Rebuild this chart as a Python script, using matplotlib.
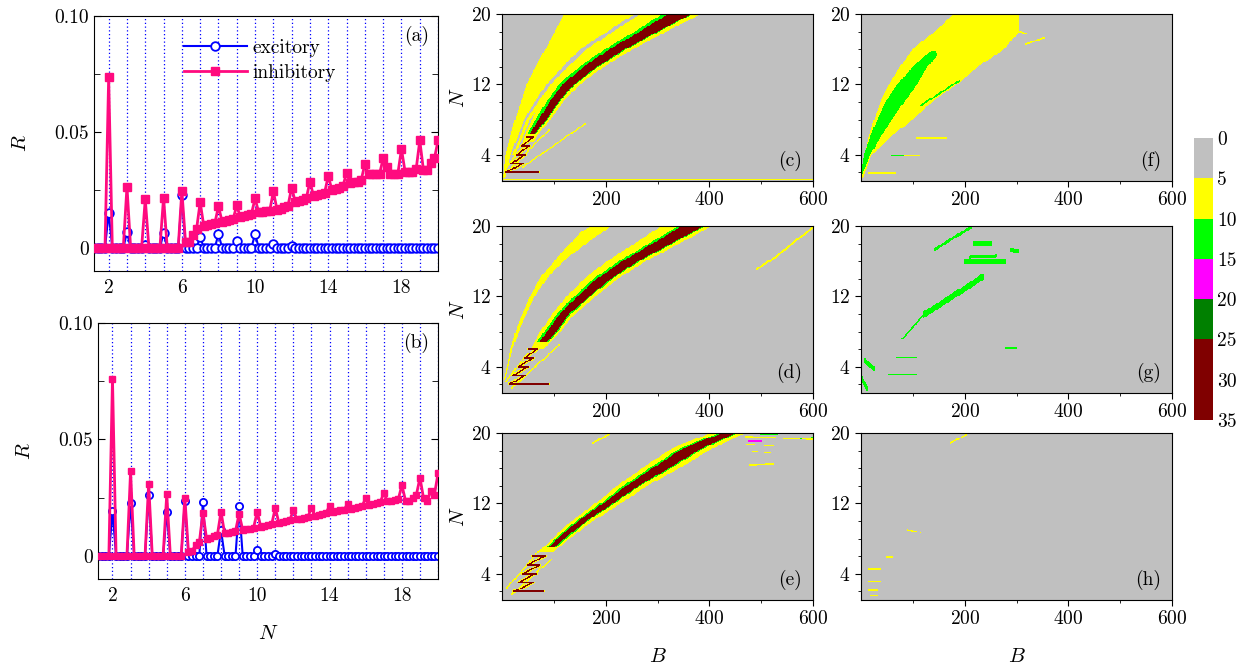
import numpy as np
import matplotlib
matplotlib.use('Agg')
import matplotlib.pyplot as plt
from matplotlib.colors import ListedColormap, BoundaryNorm
from matplotlib.cm import ScalarMappable

plt.rcParams['font.family'] = 'cmr10'
plt.rcParams['mathtext.fontset'] = 'cm'
plt.rcParams['axes.unicode_minus'] = False
plt.rcParams['axes.formatter.use_mathtext'] = True

# ---------------- line panels (a), (b) ----------------
N_line = np.round(np.arange(1.2, 20.001, 0.2), 1)   # N = 1.2, 1.4, ..., 20

inhib_a = [
    0, 0, 0, 0, 0.0736,
    0, 0, 0, 0, 0.0264,
    0, 0, 0, 0, 0.0210,
    0, 0, 0, 0, 0.0217,
    0, 0, 0, 0, 0.0247,
    0.0024, 0.0026, 0.0057, 0.0079, 0.0197,
    0.0093, 0.0097, 0.0101, 0.0106, 0.0179,
    0.0113, 0.0117, 0.0120, 0.0124, 0.0183,
    0.0132, 0.0136, 0.0141, 0.0146, 0.0213,
    0.0153, 0.0155, 0.0157, 0.0160, 0.0243,
    0.0165, 0.0169, 0.0175, 0.0182, 0.0260,
    0.0198, 0.0203, 0.0208, 0.0214, 0.0286,
    0.0222, 0.0226, 0.0230, 0.0238, 0.0310,
    0.0249, 0.0255, 0.0260, 0.0268, 0.0321,
    0.0281, 0.0283, 0.0286, 0.0293, 0.0361,
    0.0318, 0.0317, 0.0317, 0.0318, 0.0386,
    0.0350, 0.0320, 0.0319, 0.0319, 0.0426,
    0.0327, 0.0325, 0.0328, 0.0338, 0.0463,
    0.0336, 0.0336, 0.0367, 0.0386, 0.0463,
]
excit_a = [
    0, 0, 0, 0, 0.0150,
    0, 0, 0, 0, 0.0067,
    0, 0, 0, 0, 0.0014,
    0, 0, 0, 0, 0.0064,
    0, 0, 0, 0, 0.0229,
    0, 0, 0, 0, 0.0047,
    0, 0, 0, 0, 0.0060,
    0, 0, 0, 0, 0.0029,
    0, 0, 0, 0, 0.0060,
    0, 0, 0, 0, 0.0017,
    0, 0, 0, 0, 0.0007,
    0, 0, 0, 0, 0,
    0, 0, 0, 0, 0,
    0, 0, 0, 0, 0,
    0, 0, 0, 0, 0,
    0, 0, 0, 0, 0,
    0, 0, 0, 0, 0,
    0, 0, 0, 0, 0,
    0, 0, 0, 0, 0,
]
inhib_b = [
    0, 0, 0, 0, 0.0760,
    0, 0, 0, 0, 0.0364,
    0, 0, 0, 0, 0.0310,
    0, 0, 0, 0, 0.0264,
    0, 0, 0, 0, 0.0250,
    0.0017, 0.0022, 0.0045, 0.0057, 0.0185,
    0.0074, 0.0078, 0.0085, 0.0090, 0.0189,
    0.0096, 0.0099, 0.0102, 0.0106, 0.0180,
    0.0111, 0.0114, 0.0117, 0.0120, 0.0189,
    0.0125, 0.0128, 0.0131, 0.0135, 0.0205,
    0.0142, 0.0145, 0.0148, 0.0152, 0.0197,
    0.0156, 0.0159, 0.0162, 0.0166, 0.0207,
    0.0170, 0.0174, 0.0178, 0.0184, 0.0213,
    0.0189, 0.0192, 0.0195, 0.0198, 0.0223,
    0.0203, 0.0207, 0.0211, 0.0215, 0.0246,
    0.0220, 0.0223, 0.0226, 0.0230, 0.0270,
    0.0234, 0.0237, 0.0240, 0.0243, 0.0303,
    0.0237, 0.0237, 0.0248, 0.0262, 0.0335,
    0.0246, 0.0234, 0.0280, 0.0263, 0.0355,
]
excit_b = [
    0, 0, 0, 0, 0.0192,
    0, 0, 0, 0, 0.0227,
    0, 0, 0, 0, 0.0260,
    0, 0, 0, 0, 0.0190,
    0, 0, 0, 0, 0.0236,
    0, 0, 0, 0, 0.0232,
    0, 0, 0, 0, 0.0110,
    0, 0, 0, 0, 0.0213,
    0, 0, 0, 0, 0.0026,
    0, 0, 0, 0, 0.0007,
    0, 0, 0, 0, 0,
    0, 0, 0, 0, 0,
    0, 0, 0, 0, 0,
    0, 0, 0, 0, 0,
    0, 0, 0, 0, 0,
    0, 0, 0, 0, 0,
    0, 0, 0, 0, 0,
    0, 0, 0, 0, 0,
    0, 0, 0, 0, 0,
]
grid_N = list(range(2, 21))
line_xticks = [2, 6, 10, 14, 18]

# ---------------- heat-map panels (c)-(h) ----------------
level_bounds = [0, 5, 10, 15, 20, 25, 35]
level_colors = ['#c0c0c0', '#ffff00', '#00ff00', '#ff00ff', '#008000', '#800000']
cbar_ticks = [0, 5, 10, 15, 20, 25, 30, 35]
YEL, LIME, MAG, DKG, MAR = 7.5, 12.5, 17.5, 22.5, 30.0

# panel (c)
c_fan_N = [1.3, 4, 8, 12, 16, 20]
c_fan_L = [2, 7, 25, 47, 83, 120]
c_fan_R = [6, 17, 42, 85, 150, 255]
c_mid_N = [4, 8, 12, 16, 20]
c_mid_L = [20, 47, 93, 162, 266]
c_mid_R = [25, 54, 106, 185, 302]
c_halo_N = [5.5, 6.3, 8, 10, 12, 14, 16, 18, 20.2]
c_halo_L = [40, 44, 58, 75, 97, 133, 180, 237, 296]
c_halo_R = [62, 70, 93, 118, 150, 196, 252, 316, 390]
c_core_N = [6.3, 8, 10, 12, 14, 16, 18, 20.2]
c_frin_L = [48, 65, 85, 110, 149, 198, 255, 314]
c_frin_R = [65, 87, 111, 141, 186, 240, 302, 374]
c_core_L = [53, 71, 91, 117, 157, 207, 265, 325]
c_core_R = [63, 85, 109, 139, 183, 237, 299, 371]
c_zz_B = [48, 60, 38, 52, 28, 45, 18, 40, 8, 70]
c_zz_N = [6, 6, 5, 5, 4, 4, 3, 3, 2, 2]
c_ray_segs = [(5, 2.2, 60, 6.5), (10, 2.0, 90, 6.8), (40, 2.6, 160, 7.5)]
c_base_B = [0, 600]
c_base_N = [1.1, 1.1]

# panel (d)
d_arc_N = [2.5, 4.3, 6.1, 8.8, 11.8, 14.4, 16.6, 18.1, 19.25, 20.2]
d_arc_L = [4, 11, 17, 30, 52, 77, 109, 133, 150, 177]
d_arc_R = [6, 14, 21, 37, 61, 91, 130, 165, 192, 215]
d_halo_N = [6.0, 6.8, 8, 10, 12, 14, 16, 18, 20.2]
d_halo_L = [56, 63, 74, 96, 125, 158, 202, 255, 312]
d_halo_R = [80, 93, 113, 140, 180, 223, 277, 342, 410]
d_core_N = [6.8, 8, 10, 12, 14, 16, 18, 20.2]
d_frin_L = [68, 81, 106, 139, 176, 225, 283, 345]
d_frin_R = [89, 108, 133, 171, 213, 265, 329, 398]
d_core_L = [73, 86, 112, 145, 183, 232, 290, 352]
d_core_R = [86, 105, 130, 168, 210, 262, 326, 395]
d_zz_B = [52, 68, 44, 60, 31, 50, 21, 44, 15, 89]
d_zz_N = [6, 6, 5, 5, 4, 4, 3, 3, 2, 2]
d_ray_segs = [(8, 2.3, 45, 5.2), (20, 1.6, 110, 6.5)]
d_tail_B = [492, 530, 560, 600]
d_tail_N = [15.1, 16.6, 18.0, 19.9]

# panel (e)
e_halo_N = [6.5, 7, 8.5, 10, 12, 14, 16, 18, 19, 20, 20.3]
e_halo_L = [70, 80, 106, 134, 180, 222, 270, 320, 356, 404, 420]
e_halo_R = [98, 110, 141, 176, 229, 280, 342, 398, 432, 470, 486]
e_core_N = [7, 8.5, 10, 12, 14, 16, 18, 19, 20, 20.3]
e_frin_L = [85, 113, 143, 190, 234, 284, 336, 372, 420, 434]
e_frin_R = [105, 134, 166, 217, 266, 326, 381, 416, 455, 470]
e_core_L = [89, 117, 147, 195, 240, 290, 342, 378, 426, 440]
e_core_R = [102, 131, 163, 214, 263, 322, 377, 412, 452, 466]
e_zz_B = [60, 82, 50, 73, 40, 66, 31, 60, 24, 79]
e_zz_N = [6, 6, 5, 5, 4, 4, 3, 3, 2, 2]
e_ray_segs = [(10, 2.4, 70, 6.5), (20, 1.7, 95, 5.6)]
e_yel_segs = [(176, 18.9, 207, 19.9), (470, 19.6, 600, 19.3), (471, 18.7, 523, 18.6),
              (484, 17.9, 516, 17.8), (478, 16.4, 523, 16.5)]
e_lime_segs = [(500, 19.9, 530, 19.9), (575, 19.4, 600, 19.5)]
e_mag_segs = [(475, 19.1, 500, 19.1)]

# panel (f)
f_yel_N = [1.3, 4, 6, 8, 10.5, 12, 14, 16, 18, 20.2]
f_yel_L = [1, 8, 15, 25, 40, 54, 75, 99, 141, 183]
f_yel_R = [4, 21, 57, 99, 147, 186, 225, 276, 305, 303]
f_grn_N = [1.8, 2.5, 4, 6, 8, 10, 12, 14, 15.3, 15.8]
f_grn_L = [2, 2, 6, 18, 31, 47, 70, 99, 124, 135]
f_grn_R = [3, 8, 18, 37, 60, 83, 108, 128, 147, 143]
f_lime_segs = [(115, 9.6, 189, 12.4), (60, 3.9, 80, 3.9)]
f_yel_segs = [(295, 18.2, 318, 17.8), (318, 16.6, 353, 17.3), (108, 5.9, 165, 5.9),
              (60, 3.9, 112, 3.9), (15, 1.93, 67, 1.93)]

# panel (g)
g_lime_segs = [(141, 17.3, 212, 19.9), (218, 18.0, 250, 18.0), (199, 16.0, 279, 16.0),
               (210, 16.5, 260, 16.6), (289, 17.3, 302, 17.2), (121, 9.9, 237, 14.3),
               (80, 7.2, 121, 9.9), (70, 5.05, 107, 5.05), (54, 3.1, 107, 3.1),
               (279, 6.1, 299, 6.1), (8, 4.7, 25, 3.8), (2, 2.6, 12, 1.5)]
g_lime_half = [0.15, 0.25, 0.3, 0.15, 0.2, 0.35, 0.08, 0.06, 0.06, 0.06, 0.25, 0.25]

# panel (h)
h_yel_segs = [(173, 18.9, 202, 19.8), (89, 9.0, 115, 8.7), (15, 4.5, 37, 4.5),
              (15, 3.1, 37, 3.1), (15, 2.1, 31, 2.1), (20, 1.5, 31, 1.5), (50, 5.9, 60, 5.9)]

B_edges = np.linspace(0, 600, 301)
N_edges = np.linspace(1.0, 20.0, 191)
Bc = 0.5 * (B_edges[:-1] + B_edges[1:])
Nc = 0.5 * (N_edges[:-1] + N_edges[1:])


def new_grid():
    return np.full((len(Nc), len(Bc)), 2.5)


def paint_band(Z, Ns, Ls, Rs, val):
    Ns = np.asarray(Ns, float)
    L = np.interp(Nc, Ns, Ls)
    R = np.interp(Nc, Ns, Rs)
    for i in np.where((Nc >= Ns.min()) & (Nc <= Ns.max()))[0]:
        Z[i, (Bc >= L[i]) & (Bc <= R[i])] = val


def paint_path(Z, Bs, Ns, half, val, bhalf=1.0):
    for k in range(len(Bs) - 1):
        for t in np.linspace(0, 1, 300):
            b = Bs[k] + t * (Bs[k + 1] - Bs[k])
            n = Ns[k] + t * (Ns[k + 1] - Ns[k])
            r = np.abs(Nc - n) <= half
            c = np.abs(Bc - b) <= bhalf
            Z[np.ix_(r, c)] = val


def paint_segs(Z, segs, half, val):
    halves = half if isinstance(half, list) else [half] * len(segs)
    for (b0, n0, b1, n1), h in zip(segs, halves):
        paint_path(Z, [b0, b1], [n0, n1], h, val)


Zc = new_grid()
paint_path(Zc, c_base_B, c_base_N, 0.05, YEL)
paint_band(Zc, c_fan_N, c_fan_L, c_fan_R, YEL)
paint_band(Zc, c_mid_N, c_mid_L, c_mid_R, YEL)
paint_segs(Zc, c_ray_segs, 0.06, YEL)
paint_band(Zc, c_halo_N, c_halo_L, c_halo_R, YEL)
paint_band(Zc, c_core_N, c_frin_L, c_frin_R, LIME)
paint_band(Zc, c_core_N, c_core_L, c_core_R, MAR)
paint_path(Zc, c_zz_B, c_zz_N, 0.12, YEL, bhalf=3.0)
paint_path(Zc, c_zz_B, c_zz_N, 0.06, MAR)

Zd = new_grid()
paint_band(Zd, d_arc_N, d_arc_L, d_arc_R, YEL)
paint_segs(Zd, d_ray_segs, 0.06, YEL)
paint_band(Zd, d_halo_N, d_halo_L, d_halo_R, YEL)
paint_band(Zd, d_core_N, d_frin_L, d_frin_R, LIME)
paint_band(Zd, d_core_N, d_core_L, d_core_R, MAR)
paint_path(Zd, d_zz_B, d_zz_N, 0.12, YEL, bhalf=3.0)
paint_path(Zd, d_zz_B, d_zz_N, 0.06, MAR)
paint_path(Zd, d_tail_B, d_tail_N, 0.1, YEL)

Ze = new_grid()
paint_segs(Ze, e_ray_segs, 0.06, YEL)
paint_band(Ze, e_halo_N, e_halo_L, e_halo_R, YEL)
paint_band(Ze, e_core_N, e_frin_L, e_frin_R, LIME)
paint_band(Ze, e_core_N, e_core_L, e_core_R, MAR)
paint_path(Ze, e_zz_B, e_zz_N, 0.12, YEL, bhalf=3.0)
paint_path(Ze, e_zz_B, e_zz_N, 0.06, MAR)
paint_segs(Ze, e_yel_segs, 0.08, YEL)
paint_segs(Ze, e_lime_segs, 0.06, LIME)
paint_segs(Ze, e_mag_segs, 0.06, MAG)

Zf = new_grid()
paint_band(Zf, f_yel_N, f_yel_L, f_yel_R, YEL)
paint_band(Zf, f_grn_N, f_grn_L, f_grn_R, LIME)
paint_segs(Zf, f_yel_segs, 0.08, YEL)
paint_segs(Zf, f_lime_segs, 0.08, LIME)

Zg = new_grid()
paint_segs(Zg, g_lime_segs, g_lime_half, LIME)

Zh = new_grid()
paint_segs(Zh, h_yel_segs, 0.06, YEL)

cmap = ListedColormap(level_colors)
norm = BoundaryNorm(level_bounds, cmap.N)

# ---------------- figure ----------------
fig = plt.figure(figsize=(12.47, 6.66), dpi=100)
FS = 14

blue = '#0000ff'
pink = '#ff0a7f'


def line_panel(rect, inh, exc, tag, xlabel, ms_c, ms_s):
    ax = fig.add_axes(rect)
    for g in grid_N:
        ax.axvline(g, color=blue, ls=(0, (1.0, 2.0)), lw=0.9, zorder=1)
    ax.plot(N_line, exc, color=blue, lw=1.5, marker='o', ms=ms_c, mfc='white',
            mec=blue, mew=1.3, label='excitory', zorder=2)
    ax.plot(N_line, inh, color=pink, lw=2.0, marker='s', ms=ms_s, mfc=pink,
            mec=pink, label='inhibitory', zorder=3)
    ax.set_xlim(1.2, 20)
    ax.set_ylim(-0.01, 0.10)
    ax.set_xticks(line_xticks)
    ax.set_xticklabels([str(v) for v in line_xticks])
    ax.set_yticks([0, 0.05, 0.10])
    ax.set_yticklabels(['0', '0.05', '0.10'])
    ax.set_yticks([0.025, 0.075], minor=True)
    ax.tick_params(axis='x', length=0, labelsize=FS, pad=6)
    ax.tick_params(axis='y', which='both', direction='in', right=True, labelsize=FS)
    ax.tick_params(axis='y', which='major', length=5)
    ax.tick_params(axis='y', which='minor', length=4)
    ax.set_ylabel('$R$', fontsize=FS + 1, labelpad=18)
    if xlabel:
        ax.set_xlabel('$N$', fontsize=FS + 1, labelpad=14)
    ax.text(0.975, 0.96, tag, transform=ax.transAxes, ha='right', va='top', fontsize=FS)
    return ax


ax_a = line_panel([0.0754, 0.5931, 0.2759, 0.3829], inhib_a, excit_a, '(a)', False, 6.2, 5.4)
ax_a.legend(loc='upper left', bbox_to_anchor=(0.24, 0.94), frameon=False,
            fontsize=FS, handlelength=3.2, handletextpad=0.3, labelspacing=0.35,
            borderaxespad=0)
ax_b = line_panel([0.0786, 0.1306, 0.2727, 0.3844], inhib_b, excit_b, '(b)', True, 5.2, 5.0)

col_left = [0.4026, 0.6905]
row_bottom = [0.7282, 0.4099, 0.0991]
hw, hh = 0.2494, 0.2505
panels = [('(c)', Zc, 0, 0), ('(d)', Zd, 0, 1), ('(e)', Ze, 0, 2),
          ('(f)', Zf, 1, 0), ('(g)', Zg, 1, 1), ('(h)', Zh, 1, 2)]
for tag, Z, ci, ri in panels:
    ax = fig.add_axes([col_left[ci], row_bottom[ri], hw, hh])
    ax.pcolormesh(B_edges, N_edges, Z, cmap=cmap, norm=norm, shading='flat', rasterized=True)
    ax.set_xlim(0, 600)
    ax.set_ylim(1, 20)
    ax.set_xticks([200, 400, 600])
    ax.set_xticks([100, 300, 500], minor=True)
    ax.set_yticks([4, 12, 20])
    ax.set_yticks([2, 6, 8, 10, 14, 16, 18], minor=True)
    ax.tick_params(which='both', direction='out', labelsize=FS)
    ax.tick_params(which='major', length=4)
    ax.tick_params(which='minor', length=2.5)
    ax.text(0.965, 0.06, tag, transform=ax.transAxes, ha='right', va='bottom', fontsize=FS)
    if ci == 0:
        ax.set_ylabel('$N$', fontsize=FS + 1, labelpad=2)
    if ri == 2:
        ax.set_xlabel('$B$', fontsize=FS + 1, labelpad=14)

cax = fig.add_axes([0.9575, 0.3694, 0.0152, 0.4234])
sm = ScalarMappable(norm=norm, cmap=cmap)
cb = fig.colorbar(sm, cax=cax, ticks=cbar_ticks, spacing='proportional')
cb.outline.set_visible(False)
cb.ax.invert_yaxis()
cb.ax.tick_params(length=0, labelsize=FS, pad=3)
cb.ax.set_yticklabels([str(t) for t in cbar_ticks])

fig.savefig('out.png', dpi=100)
